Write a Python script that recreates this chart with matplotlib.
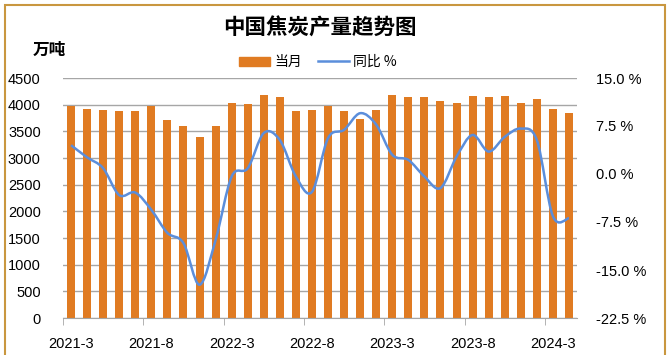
import numpy as np
import matplotlib
matplotlib.use('Agg')
import matplotlib.pyplot as plt
from matplotlib.path import Path
from matplotlib.patches import PathPatch, Rectangle, Patch
from matplotlib.lines import Line2D

plt.rcParams['font.family'] = ['Noto Sans CJK SC', 'DejaVu Sans']

# 数据（万吨 / 同比 %）
tick_labels = ['2021-3', '2021-8', '2022-3', '2022-8', '2023-3', '2023-8', '2024-3']
output = [3975, 3925, 3900, 3875, 3875, 3975, 3712, 3600, 3388, 3600,
          4025, 4010, 4187, 4137, 3875, 3900, 3975, 3880, 3737, 3900,
          4187, 4137, 4137, 4062, 4037, 4162, 4137, 4162, 4037, 4112,
          3925, 3850]
yoy = [4.5, 2.6, 0.9, -3.3, -2.9, -5.6, -9.2, -10.8, -17.3, -10.3,
       -0.4, 0.9, 6.4, 5.3, -0.4, -2.8, 5.6, 6.9, 9.5, 7.7,
       3.0, 2.2, -0.4, -2.2, 2.7, 6.1, 3.5, 5.8, 7.1, 5.3,
       -6.6, -6.9]

bar_color = '#E07B22'
line_color = '#5B8EDB'
grid_color = '#A6A6A6'
tick_font = ['Liberation Sans', 'DejaVu Sans']

fig = plt.figure(figsize=(6.72, 3.55), dpi=100)
ax = fig.add_axes([63 / 672, 1 - 318 / 355, 514 / 672, 240 / 355])
x = np.arange(len(output))

ax.bar(x, output, width=0.5, color=bar_color, zorder=2)
ax.set_xlim(-0.5, len(output) - 0.5)
ax.set_ylim(0, 4500)
ax.set_yticks(np.arange(0, 4501, 500))
ax.yaxis.grid(True, color=grid_color, lw=1, zorder=0)
ax.set_axisbelow(True)
for s in ['left', 'right', 'top']:
    ax.spines[s].set_visible(False)
ax.spines['bottom'].set_color(grid_color)
ax.tick_params(axis='y', length=0, pad=16, labelsize=10.5)
ax.set_xticks(np.arange(0, len(output), 5))
ax.set_xticklabels(tick_labels, family=tick_font)
ax.set_xticks(np.arange(-0.5, len(output), 5), minor=True)
ax.tick_params(axis='x', which='major', length=0, pad=14, labelsize=10.5)
ax.tick_params(axis='x', which='minor', length=5, color=grid_color)
for t in ax.get_yticklabels():
    t.set_family(tick_font)

# 同比：平滑曲线
ax2 = ax.twinx()
ax2.set_ylim(-22.5, 15)
ax2.set_yticks(np.arange(-22.5, 15.1, 7.5))
ax2.set_yticklabels([f'{v:.1f} %' for v in np.arange(-22.5, 15.1, 7.5)], family=tick_font)
ax2.tick_params(axis='y', length=0, pad=14, labelsize=10.5)
for s in ax2.spines.values():
    s.set_visible(False)

pts = np.column_stack([x, yoy]).astype(float)
verts = [pts[0]]
codes = [Path.MOVETO]
n = len(pts)
for i in range(n - 1):
    p0 = pts[max(i - 1, 0)]
    p1 = pts[i]
    p2 = pts[i + 1]
    p3 = pts[min(i + 2, n - 1)]
    c1 = p1 + (p2 - p0) / 6
    c2 = p2 - (p3 - p1) / 6
    verts += [c1, c2, p2]
    codes += [Path.CURVE4] * 3
ax2.add_patch(PathPatch(Path(verts, codes), fill=False, edgecolor=line_color, lw=1.8, zorder=3))

# 标题、单位、图例
fig.text(0.476, 1 - 28 / 355, '中国焦炭产量趋势图', ha='center', va='center',
         fontsize=15.5, fontweight='bold')
fig.text(33 / 672, 1 - 50 / 355, '万吨', ha='left', va='center', fontsize=12, fontweight='bold')
handles = [Patch(color=bar_color), Line2D([], [], color=line_color, lw=1.8)]
fig.legend(handles, ['当月', '同比 %'], loc='center', bbox_to_anchor=(318 / 672, 1 - 62 / 355),
           ncol=2, frameon=False, fontsize=10, handlelength=2.2, handleheight=0.6,
           columnspacing=1.2, handletextpad=0.3)

# 外框
fig.patches.append(Rectangle((5 / 672, -0.02), 660 / 672, 1 - 5 / 355 + 0.02,
                             transform=fig.transFigure, fill=False,
                             edgecolor='#C9973F', lw=1.5))

fig.savefig('out.png', dpi=100)
